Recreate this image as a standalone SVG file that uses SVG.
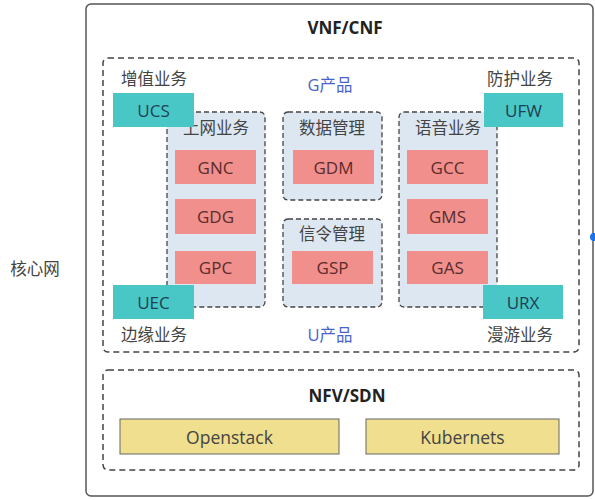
<svg xmlns="http://www.w3.org/2000/svg" width="595" height="500" viewBox="0 0 595 500">
<style>
text{font-family:"Open Sans","Noto Sans CJK SC",sans-serif;text-anchor:middle;dominant-baseline:central}
.lbl{font-size:16.5px;fill:#444}
.title{font-size:17px;font-weight:bold;fill:#222}
.blue{font-size:16.5px;fill:#4a63c9}
.dash{fill:none;stroke:#444;stroke-width:1.5;stroke-dasharray:6 4}
.grp{fill:#dde7f1;stroke:#444;stroke-width:1.3;stroke-dasharray:5 3}
.teal{fill:#49c7c6}
.pink{fill:#f18f8c}
.ttxt{font-size:17px;fill:#1f3f55}
.ptxt{font-size:17px;fill:#5a2c2c}
.yel{fill:#efdf8e;stroke:#666;stroke-width:1}
.ytxt{font-size:17.5px;fill:#444}
</style>
<rect width="595" height="500" fill="#fff"/>
<g id="core">
<text class="lbl" x="35" y="268" fill="#555">核心网</text>
</g>
<g id="vnf">
<rect x="86" y="4" width="507" height="492" rx="5" fill="#fff" stroke="#555" stroke-width="1.5"/>
<text class="title" x="345" y="27">VNF/CNF</text>
</g>
<circle cx="594" cy="237" r="4" fill="#1a73e8"/>
<g id="gproduct">
<rect class="dash" x="103" y="58" width="476" height="294" rx="5"/>
<text class="lbl" x="154" y="78">增值业务</text>
<text class="blue" x="330" y="84">G产品</text>
<text class="lbl" x="520" y="78">防护业务</text>
<text class="lbl" x="154" y="334">边缘业务</text>
<text class="blue" x="330" y="334">U产品</text>
<text class="lbl" x="520" y="334">漫游业务</text>
</g>
<g id="internet">
<rect class="grp" x="167" y="112" width="98" height="195" rx="5"/>
<text class="lbl" x="216" y="127">上网业务</text>
</g>
<g id="data">
<rect class="grp" x="283" y="112" width="99" height="88" rx="5"/>
<text class="lbl" x="332" y="127">数据管理</text>
</g>
<g id="signal">
<rect class="grp" x="283" y="219" width="99" height="88" rx="5"/>
<text class="lbl" x="332" y="233">信令管理</text>
</g>
<g id="voice">
<rect class="grp" x="399" y="112" width="98" height="195" rx="5"/>
<text class="lbl" x="448" y="127">语音业务</text>
</g>
<g id="GNC"><rect class="pink" x="175" y="150" width="81" height="34"/><text class="ptxt" x="215.5" y="167">GNC</text></g>
<g id="GDG"><rect class="pink" x="175" y="199" width="81" height="35"/><text class="ptxt" x="215.5" y="216.5">GDG</text></g>
<g id="GPC"><rect class="pink" x="175" y="251" width="81" height="33"/><text class="ptxt" x="215.5" y="267.5">GPC</text></g>
<g id="GDM"><rect class="pink" x="293" y="150" width="81" height="34"/><text class="ptxt" x="333.5" y="167">GDM</text></g>
<g id="GSP"><rect class="pink" x="292" y="251" width="81" height="33"/><text class="ptxt" x="332.5" y="267.5">GSP</text></g>
<g id="GCC"><rect class="pink" x="407" y="150" width="81" height="34"/><text class="ptxt" x="447.5" y="167">GCC</text></g>
<g id="GMS"><rect class="pink" x="407" y="199" width="81" height="35"/><text class="ptxt" x="447.5" y="216.5">GMS</text></g>
<g id="GAS"><rect class="pink" x="407" y="251" width="81" height="33"/><text class="ptxt" x="447.5" y="267.5">GAS</text></g>
<g id="UCS"><rect class="teal" x="113" y="93" width="81" height="34"/><text class="ttxt" x="153.5" y="110">UCS</text></g>
<g id="UFW"><rect class="teal" x="484" y="93" width="79" height="34"/><text class="ttxt" x="523.5" y="110">UFW</text></g>
<g id="UEC"><rect class="teal" x="113" y="285" width="81" height="34"/><text class="ttxt" x="153.5" y="302">UEC</text></g>
<g id="URX"><rect class="teal" x="483" y="285" width="80" height="34"/><text class="ttxt" x="523" y="302">URX</text></g>
<g id="nfv">
<rect class="dash" x="103" y="370" width="476" height="100" rx="5"/>
<text class="title" x="347" y="395">NFV/SDN</text>
</g>
<g id="openstack"><rect class="yel" x="120" y="419" width="219" height="35"/><text class="ytxt" x="229.5" y="436.5">Openstack</text></g>
<g id="kubernets"><rect class="yel" x="366" y="419" width="193" height="35"/><text class="ytxt" x="462.5" y="436.5">Kubernets</text></g>
<g id="connectors"></g>
</svg>
